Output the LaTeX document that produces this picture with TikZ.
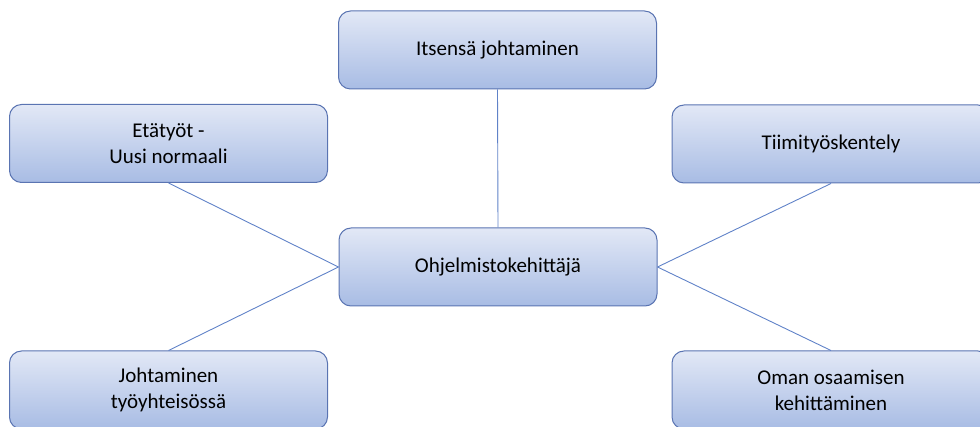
\documentclass[tikz,border=0pt]{standalone}
\usepackage{fontspec}
\setmainfont{Carlito}
\definecolor{boxtop}{RGB}{226,232,246}
\definecolor{boxbot}{RGB}{168,188,228}
\definecolor{boxline}{RGB}{90,116,178}
\definecolor{connline}{RGB}{96,130,200}
\begin{document}
\begin{tikzpicture}[x=1pt,y=-1pt,
  box/.style={draw=boxline, line width=1pt, rounded corners=12pt,
    top color=boxtop, bottom color=boxbot, shading angle=0,
    minimum width=318pt, minimum height=78pt, inner sep=0pt,
    align=center, font=\fontsize{21}{26}\selectfont, text=black},
  conn/.style={draw=connline, line width=0.9pt}]
\useasboundingbox (0,0) rectangle (980,427);
\node[box] (top) at (497.5,50) {Itsensä johtaminen};
\node[box] (lt) at (168.5,143.5) {Etätyöt -\\Uusi normaali};
\node[box] (rt) at (831,144) {Tiimityöskentely};
\node[box] (c) at (498,267) {Ohjelmistokehittäjä};
\node[box] (lb) at (168.5,390) {Johtaminen\\työyhteisössä};
\node[box] (rb) at (831,390) {Oman osaamisen\\kehittäminen};
\draw[conn] (top.south) -- (c.north);
\draw[conn] (lt.south) -- (c.west);
\draw[conn] (lb.north) -- (c.west);
\draw[conn] (rt.south) -- (c.east);
\draw[conn] (rb.north) -- (c.east);
\end{tikzpicture}
\end{document}
